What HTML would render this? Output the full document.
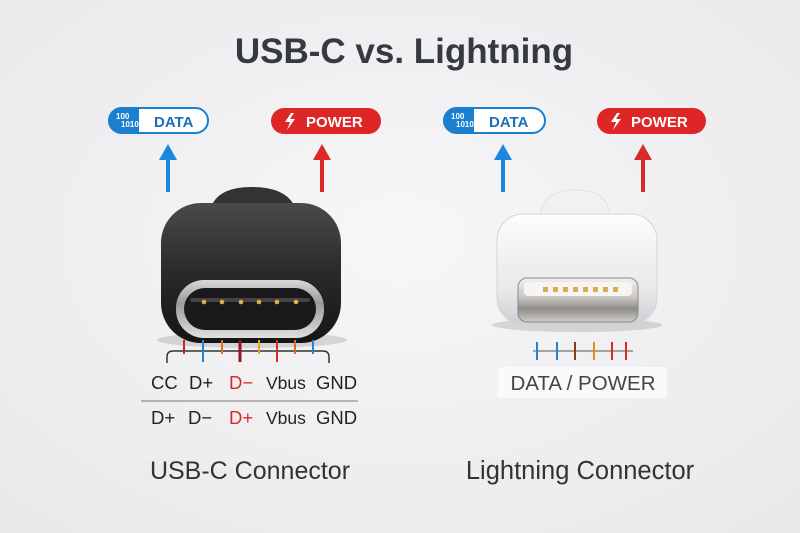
<!DOCTYPE html>
<html><head><meta charset="utf-8"><style>
html,body{margin:0;padding:0;background:#f0f0f2;}
svg{display:block;font-family:"Liberation Sans",sans-serif;}
</style></head><body>
<svg width="800" height="533" viewBox="0 0 800 533" xmlns="http://www.w3.org/2000/svg">
<defs>
<radialGradient id="bg" cx="50%" cy="45%" r="70%"><stop offset="0" stop-color="#f7f7f8"/><stop offset="1" stop-color="#e9e9ec"/></radialGradient>
<linearGradient id="blk" x1="0" y1="0" x2="0" y2="1"><stop offset="0" stop-color="#4a4a4c"/><stop offset="0.5" stop-color="#2a2a2c"/><stop offset="1" stop-color="#151516"/></linearGradient>
<linearGradient id="met" x1="0" y1="0" x2="0" y2="1"><stop offset="0" stop-color="#d8d8d8"/><stop offset="0.4" stop-color="#9a9a9a"/><stop offset="1" stop-color="#e0e0e0"/></linearGradient>
<linearGradient id="wht" x1="0" y1="0" x2="0" y2="1"><stop offset="0" stop-color="#fdfdfd"/><stop offset="0.7" stop-color="#e8e8ea"/><stop offset="1" stop-color="#cfcfd3"/></linearGradient>
<linearGradient id="lmet" x1="0" y1="0" x2="0" y2="1"><stop offset="0" stop-color="#f2f2f2"/><stop offset="0.45" stop-color="#c9c6c2"/><stop offset="0.7" stop-color="#8e8b88"/><stop offset="1" stop-color="#cfcdca"/></linearGradient>
</defs>
<rect width="800" height="533" fill="url(#bg)"/>
<text x="404" y="63" text-anchor="middle" font-size="35" font-weight="bold" fill="#353a40">USB-C vs. Lightning</text>

<!-- left badges -->
<rect x="109" y="108" width="99" height="25" rx="12.5" fill="#fff" stroke="#1b7fd0" stroke-width="2"/>
<path d="M109 120 a12 12 0 0 1 12 -12 h18 v25 h-18 a12 12 0 0 1 -12 -13z" fill="#1b7fd0"/>
<text x="116" y="119" font-size="8" font-weight="bold" fill="#fff">100</text>
<text x="121" y="127" font-size="8" font-weight="bold" fill="#fff">1010</text>
<text x="154" y="127" font-size="15" font-weight="bold" fill="#1b6fb8">DATA</text>
<rect x="271" y="108" width="110" height="26" rx="13" fill="#df2626"/>
<path d="M291 113 l-6 9 h5 l-3 8 l8 -11 h-5 l4 -6z" fill="#fff"/>
<text x="306" y="127" font-size="15" font-weight="bold" fill="#fff">POWER</text>
<line x1="168" y1="192" x2="168" y2="158" stroke="#1b88dd" stroke-width="4"/>
<polygon points="159,160 177,160 168,144" fill="#1b88dd"/>
<line x1="322" y1="192" x2="322" y2="158" stroke="#d92a2a" stroke-width="4"/>
<polygon points="313,160 331,160 322,144" fill="#d92a2a"/>

<!-- right badges -->
<rect x="444" y="108" width="101" height="25" rx="12.5" fill="#fff" stroke="#1b7fd0" stroke-width="2"/>
<path d="M444 120 a12 12 0 0 1 12 -12 h18 v25 h-18 a12 12 0 0 1 -12 -13z" fill="#1b7fd0"/>
<text x="451" y="119" font-size="8" font-weight="bold" fill="#fff">100</text>
<text x="456" y="127" font-size="8" font-weight="bold" fill="#fff">1010</text>
<text x="489" y="127" font-size="15" font-weight="bold" fill="#1b6fb8">DATA</text>
<rect x="597" y="108" width="109" height="26" rx="13" fill="#df2626"/>
<path d="M617 113 l-6 9 h5 l-3 8 l8 -11 h-5 l4 -6z" fill="#fff"/>
<text x="631" y="127" font-size="15" font-weight="bold" fill="#fff">POWER</text>
<line x1="503" y1="192" x2="503" y2="158" stroke="#1b88dd" stroke-width="4"/>
<polygon points="494,160 512,160 503,144" fill="#1b88dd"/>
<line x1="643" y1="192" x2="643" y2="158" stroke="#d92a2a" stroke-width="4"/>
<polygon points="634,160 652,160 643,144" fill="#d92a2a"/>

<!-- USB-C connector -->
<ellipse cx="252" cy="340" rx="95" ry="8" fill="#000" opacity="0.12"/>
<path d="M212 205 q8 -18 40 -18 q32 0 42 18 z" fill="#333"/>
<rect x="161" y="203" width="180" height="140" rx="40" fill="url(#blk)"/>
<rect x="176" y="280" width="148" height="58" rx="28" fill="url(#met)"/>
<rect x="184" y="288" width="132" height="42" rx="21" fill="#1a1a1a"/>
<rect x="190" y="298" width="120" height="4" rx="2" fill="#444"/>
<g fill="#d9b24a"><circle cx="204" cy="302" r="2.3"/><circle cx="222" cy="302" r="2.3"/><circle cx="241" cy="302" r="2.3"/><circle cx="259" cy="302" r="2.3"/><circle cx="277" cy="302" r="2.3"/><circle cx="296" cy="302" r="2.3"/></g>

<!-- USB-C pins -->
<path d="M167 363 v-6 q0 -6 6 -6 h150 q6 0 6 6 v6" fill="none" stroke="#333" stroke-width="1.5"/>
<g stroke-width="2">
<line x1="184" y1="340" x2="184" y2="354" stroke="#c0282b"/>
<line x1="203" y1="340" x2="203" y2="362" stroke="#1d86d6"/>
<line x1="222" y1="340" x2="222" y2="354" stroke="#e36b1c"/>
<line x1="240" y1="340" x2="240" y2="362" stroke="#9b1420" stroke-width="3"/>
<line x1="259" y1="340" x2="259" y2="354" stroke="#f0a21a"/>
<line x1="277" y1="340" x2="277" y2="362" stroke="#d92a2a"/>
<line x1="295" y1="340" x2="295" y2="354" stroke="#e36b1c"/>
<line x1="313" y1="340" x2="313" y2="354" stroke="#1d86d6"/>
</g>
<g font-size="18.5" fill="#222">
<text x="151" y="389">CC</text><text x="189" y="389">D+</text>
<text x="229" y="389" fill="#d92a2a">D−</text><text x="266" y="389" font-size="17.5">Vbus</text><text x="316" y="389">GND</text>
<line x1="141" y1="401" x2="358" y2="401" stroke="#777" stroke-width="1"/>
<text x="151" y="424">D+</text><text x="188" y="424">D−</text>
<text x="229" y="424" fill="#d92a2a">D+</text><text x="266" y="424" font-size="17.5">Vbus</text><text x="316" y="424">GND</text>
</g>

<!-- Lightning connector -->
<ellipse cx="577" cy="325" rx="85" ry="7" fill="#000" opacity="0.12"/>
<path d="M540 218 q0 -28 35 -28 q35 0 35 28 z" fill="#f1f1f3" stroke="#e2e2e5"/>
<rect x="497" y="214" width="160" height="110" rx="26" fill="url(#wht)" stroke="#d4d4d8"/>
<rect x="518" y="278" width="120" height="44" rx="9" fill="url(#lmet)" stroke="#8a8784"/>
<rect x="524" y="282" width="108" height="14" rx="4" fill="#f6f5f3"/>
<g fill="#d8ad55"><rect x="543" y="287" width="5" height="5"/><rect x="553" y="287" width="5" height="5"/><rect x="563" y="287" width="5" height="5"/><rect x="573" y="287" width="5" height="5"/><rect x="583" y="287" width="5" height="5"/><rect x="593" y="287" width="5" height="5"/><rect x="603" y="287" width="5" height="5"/><rect x="613" y="287" width="5" height="5"/></g>

<line x1="533" y1="351" x2="633" y2="351" stroke="#555" stroke-width="1"/>
<g stroke-width="2">
<line x1="537" y1="342" x2="537" y2="360" stroke="#1d86d6"/>
<line x1="557" y1="342" x2="557" y2="360" stroke="#1d86d6"/>
<line x1="575" y1="342" x2="575" y2="360" stroke="#8b3a1a"/>
<line x1="594" y1="342" x2="594" y2="360" stroke="#ee8a1a"/>
<line x1="612" y1="342" x2="612" y2="360" stroke="#d92a2a"/>
<line x1="626" y1="342" x2="626" y2="360" stroke="#d92a2a"/>
</g>
<rect x="498" y="367" width="169" height="31" rx="3" fill="#fafafa"/>
<text x="583" y="390" text-anchor="middle" font-size="20.5" fill="#444">DATA / POWER</text>

<text x="250" y="479" text-anchor="middle" font-size="25" fill="#333">USB-C Connector</text>
<text x="580" y="479" text-anchor="middle" font-size="25.5" fill="#333">Lightning Connector</text>
</svg>
</body></html>
